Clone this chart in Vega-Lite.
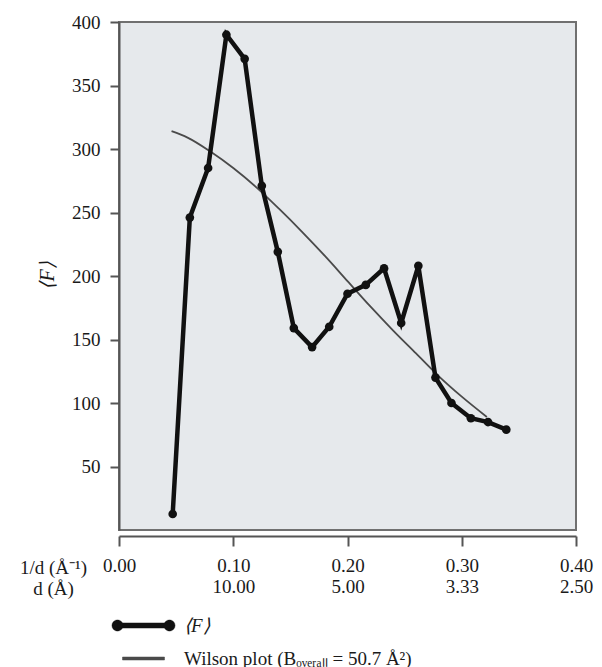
{
  "$schema": "https://vega.github.io/schema/vega-lite/v6.json",
  "autosize": "none",
  "width": 457,
  "height": 508,
  "padding": {"left": 119, "top": 22, "right": 26, "bottom": 137},
  "background": "white",
  "config": {
    "font": "Liberation Serif",
    "view": {"fill": "#e6e9ec", "stroke": "#707070", "strokeWidth": 2},
    "axis": {"grid": false}
  },
  "datasets": {
    "fmean": [
      {"s": 0.047, "F": 12.6},
      {"s": 0.062, "F": 246},
      {"s": 0.078, "F": 285},
      {"s": 0.094, "F": 390},
      {"s": 0.110, "F": 371},
      {"s": 0.125, "F": 271},
      {"s": 0.139, "F": 219},
      {"s": 0.153, "F": 159},
      {"s": 0.169, "F": 144},
      {"s": 0.184, "F": 160},
      {"s": 0.200, "F": 186},
      {"s": 0.216, "F": 193},
      {"s": 0.232, "F": 206},
      {"s": 0.247, "F": 163},
      {"s": 0.262, "F": 208},
      {"s": 0.277, "F": 120},
      {"s": 0.291, "F": 100},
      {"s": 0.308, "F": 88},
      {"s": 0.323, "F": 85},
      {"s": 0.339, "F": 79}
    ],
    "wilson": [
      {"s": 0.046, "W": 314},
      {"s": 0.06, "W": 309},
      {"s": 0.08, "W": 298},
      {"s": 0.10, "W": 285},
      {"s": 0.12, "W": 270},
      {"s": 0.14, "W": 253},
      {"s": 0.16, "W": 235},
      {"s": 0.18, "W": 216},
      {"s": 0.20, "W": 196},
      {"s": 0.22, "W": 176},
      {"s": 0.24, "W": 157},
      {"s": 0.26, "W": 139},
      {"s": 0.28, "W": 121},
      {"s": 0.30, "W": 105},
      {"s": 0.322, "W": 89}
    ]
  },
  "layer": [
    {
      "data": {"name": "wilson"},
      "mark": {"type": "line", "strokeWidth": 1.8, "interpolate": "monotone"},
      "encoding": {
        "x": {
          "field": "s", "type": "quantitative",
          "scale": {"domain": [0, 0.4], "nice": false},
          "axis": {
            "values": [0, 0.1, 0.2, 0.3, 0.4],
            "labelExpr": "[format(datum.value, '.2f'), datum.value > 0 ? format(1 / datum.value, '.2f') : '']",
            "labelFont": "Liberation Serif",
            "labelFontSize": 19,
            "labelColor": "#1a1a1a",
            "labelLineHeight": 21,
            "labelFlush": false,
            "labelOverlap": false,
            "labelPadding": 10,
            "offset": 6,
            "domainColor": "#555555",
            "domainWidth": 2,
            "tickColor": "#555555",
            "tickWidth": 2,
            "tickSize": 10,
            "title": ["1/d (Å⁻¹)", "d (Å)"],
            "titleFont": "Liberation Serif",
            "titleFontSize": 19,
            "titleFontWeight": "normal",
            "titleColor": "#1a1a1a",
            "titleLineHeight": 21,
            "titleAlign": "center",
            "titleBaseline": "top",
            "titleX": -66,
            "titleY": 22
          }
        },
        "y": {
          "field": "W", "type": "quantitative",
          "scale": {"domain": [0, 400], "nice": false},
          "axis": {
            "values": [50, 100, 150, 200, 250, 300, 350, 400],
            "labelFont": "Liberation Serif",
            "labelFontSize": 19,
            "labelColor": "#1a1a1a",
            "labelPadding": 10,
            "domainColor": "#555555",
            "domainWidth": 2,
            "tickColor": "#555555",
            "tickWidth": 2,
            "tickSize": 9,
            "title": "⟨F⟩",
            "titleFont": "Liberation Serif",
            "titleFontSize": 20,
            "titleFontWeight": "normal",
            "titleFontStyle": "italic",
            "titleColor": "#1a1a1a",
            "titleAlign": "center",
            "titleBaseline": "middle",
            "titleX": -72,
            "titleY": 253
          }
        },
        "color": {
          "datum": "Wilson plot (Bₒᵥₑᵣₐₗₗ = 50.7 Å²)",
          "type": "nominal",
          "scale": {
            "domain": ["⟨F⟩", "Wilson plot (Bₒᵥₑᵣₐₗₗ = 50.7 Å²)"],
            "range": ["#111111", "#4a4a4a"]
          },
          "legend": {
            "orient": "none",
            "legendX": 14,
            "legendY": 593,
            "title": null,
            "padding": 0,
            "labelFont": "Liberation Serif",
            "labelFontSize": 19,
            "labelColor": "#1a1a1a",
            "labelLimit": 0,
            "symbolSize": 400,
            "labelOffset": 30,
            "rowPadding": 12,
            "encode": {
              "symbols": {
                "update": {
                  "shape": {"signal": "datum.value === '⟨F⟩' ? 'M-3.15,0A0.55,0.55 0 1,1 -2.05,0A0.55,0.55 0 1,1 -3.15,0Z M2.05,0A0.55,0.55 0 1,1 3.15,0A0.55,0.55 0 1,1 2.05,0Z M-2.6,-0.25L2.6,-0.25L2.6,0.25L-2.6,0.25Z' : 'M-2.1,-0.15L2.1,-0.15L2.1,0.15L-2.1,0.15Z'"},
                  "fill": {"signal": "datum.value === '⟨F⟩' ? '#111111' : '#8a8a8a'"},
                  "stroke": {"signal": "datum.value === '⟨F⟩' ? '#111111' : '#8a8a8a'"},
                  "strokeWidth": {"value": 0.5},
                  "opacity": {"value": 1}
                }
              },
              "labels": {
                "update": {
                  "fontStyle": {"signal": "datum.value === '⟨F⟩' ? 'italic' : 'normal'"}
                }
              }
            }
          }
        }
      }
    },
    {
      "data": {"name": "fmean"},
      "mark": {"type": "line", "strokeWidth": 4.5, "point": {"filled": true, "size": 75}},
      "encoding": {
        "x": {"field": "s", "type": "quantitative"},
        "y": {"field": "F", "type": "quantitative"},
        "color": {"datum": "⟨F⟩", "type": "nominal"}
      }
    }
  ]
}
